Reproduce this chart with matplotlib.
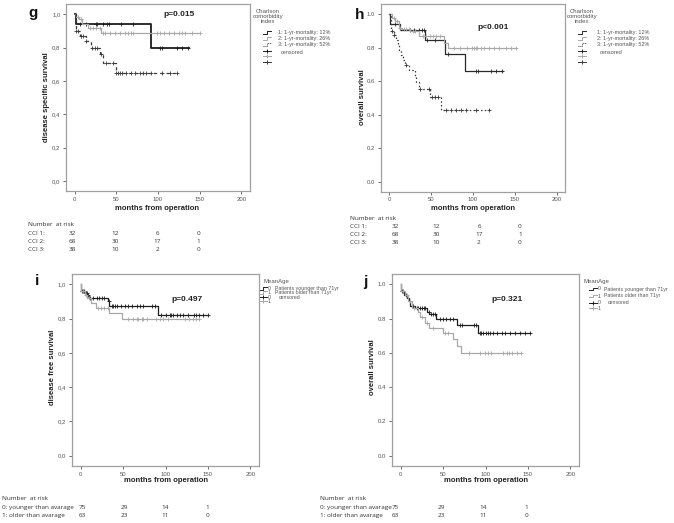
import numpy as np
import matplotlib
matplotlib.use("Agg")
import matplotlib.pyplot as plt

plt.rcParams['font.family'] = ['Liberation Sans', 'DejaVu Sans']

# ---------------- data ----------------
# Panel g: disease specific survival by CCI
g_cci1_t = [0, 1, 91, 137]
g_cci1_s = [1.0, 0.94, 0.80, 0.80]
g_cci1_c = [6, 13, 25, 27, 34, 39, 41, 55, 70, 103, 105, 123, 129, 136]
g_cci2_t = [0, 2, 5, 9, 16, 32, 151]
g_cci2_s = [1.0, 0.985, 0.97, 0.94, 0.92, 0.89, 0.89]
g_cci2_c = [4, 7, 18, 22, 26, 30, 34, 36, 42, 48, 54, 60, 64, 68, 70, 99, 103, 107,
            113, 119, 125, 129, 133, 141, 151]
g_cci3_t = [0, 1, 6, 13, 19, 30, 34, 49, 123]
g_cci3_s = [1.0, 0.90, 0.87, 0.84, 0.80, 0.76, 0.71, 0.65, 0.65]
g_cci3_c = [2, 4, 8, 10, 14, 21, 24, 27, 31, 37, 46, 50, 52, 54, 57, 62, 68, 72, 78,
            82, 86, 92, 105, 115, 123]

# Panel h: overall survival by CCI
h_cci1_t = [0, 1, 13, 43, 67, 90, 136]
h_cci1_s = [1.0, 0.94, 0.905, 0.845, 0.765, 0.66, 0.66]
h_cci1_c = [7, 25, 29, 35, 39, 41, 45, 55, 70, 104, 106, 122, 128, 135]
h_cci2_t = [0, 3, 7, 11, 15, 25, 35, 65, 70, 152]
h_cci2_s = [1.0, 0.98, 0.96, 0.92, 0.91, 0.90, 0.87, 0.83, 0.80, 0.80]
h_cci2_c = [5, 9, 13, 17, 20, 23, 28, 31, 40, 44, 48, 52, 56, 60, 77, 85, 93, 99,
            101, 103, 105, 109, 113, 119, 125, 131, 139, 145, 151]
h_cci3_t = [0, 2, 5, 8, 10, 12, 14, 16, 19, 23, 30, 32, 35, 49, 62, 122]
h_cci3_s = [1.0, 0.90, 0.875, 0.845, 0.815, 0.785, 0.755, 0.725, 0.695, 0.665,
            0.63, 0.595, 0.555, 0.505, 0.43, 0.43]
h_cci3_c = [3, 6, 20, 37, 47, 51, 55, 58, 68, 74, 80, 86, 92, 104, 119]

# Panel i: disease free survival by mean age
i_g0_t = [0, 1, 5, 8, 10, 32, 34, 91, 150]
i_g0_s = [1.0, 0.96, 0.95, 0.935, 0.92, 0.90, 0.875, 0.82, 0.82]
i_g0_c = [2, 3, 4, 6, 7, 9, 11, 15, 19, 22, 25, 27, 33, 37, 38, 40, 43, 48, 52, 56,
          60, 66, 70, 74, 84, 88, 95, 101, 105, 107, 109, 113, 117, 121, 127, 133,
          136, 140, 144, 150]
i_g1_t = [0, 1, 5, 8, 12, 18, 34, 49, 140]
i_g1_s = [1.0, 0.96, 0.94, 0.92, 0.89, 0.86, 0.83, 0.795, 0.795]
i_g1_c = [3, 6, 10, 20, 24, 28, 32, 56, 62, 66, 68, 72, 74, 78, 89, 93, 97, 103,
          123, 128, 132, 136, 140]

# Panel j: overall survival by mean age
j_g0_t = [0, 1, 4, 8, 10, 11, 17, 31, 34, 42, 66, 91, 152]
j_g0_s = [1.0, 0.96, 0.94, 0.92, 0.90, 0.875, 0.86, 0.84, 0.825, 0.795, 0.76,
          0.715, 0.715]
j_g0_c = [2, 3, 6, 13, 15, 19, 21, 23, 25, 27, 29, 33, 36, 38, 40, 46, 50, 54, 58,
          62, 70, 72, 86, 89, 93, 95, 97, 101, 103, 105, 109, 113, 119, 123, 129,
          135, 141, 147, 152]
j_g1_t = [0, 1, 5, 9, 14, 20, 23, 29, 34, 50, 62, 66, 71, 142]
j_g1_s = [1.0, 0.96, 0.94, 0.90, 0.86, 0.84, 0.81, 0.775, 0.745, 0.715, 0.68,
          0.64, 0.60, 0.60]
j_g1_c = [3, 7, 11, 16, 25, 31, 38, 52, 56, 81, 93, 99, 103, 106, 121, 125, 128,
          131, 137, 142]

# Labels / text
panel_letters = ['g', 'h', 'i', 'j']
ylabels = ['disease specific survival', 'overall survival',
           'disease free survival', 'overall survival']
xlabel = 'months from operation'
pvalues = ['p=0.015', 'p<0.001', 'p=0.497', 'p=0.321']
xticks = [0, 50, 100, 150, 200]
yticks = [0.0, 0.2, 0.4, 0.6, 0.8, 1.0]
cci_labels = ['1: 1-yr-mortality: 12%', '2: 1-yr-mortality: 26%',
              '3: 1-yr-mortality: 52%']
age_labels = ['Patients younger than 71yr', 'Patients older than 71yr']
cci_risk_rows = ['CCI 1:', 'CCI 2:', 'CCI 3:']
cci_risk = [[32, 12, 6, 0], [68, 30, 17, 1], [38, 10, 2, 0]]
age_risk_rows = ['0: younger than avarage', '1: older than avarage']
age_risk = [[75, 29, 14, 1], [63, 23, 11, 0]]

# ---------------- layout ----------------
W, H = 674, 523
fig = plt.figure(figsize=(W / 100, H / 100), dpi=100)


def px_axes(l, t, r, b):
    return fig.add_axes([l / W, 1 - b / H, (r - l) / W, (b - t) / H])


ov = fig.add_axes([0, 0, 1, 1])
ov.set_xlim(0, W)
ov.set_ylim(H, 0)
ov.axis('off')
ov.patch.set_alpha(0)

BLACK = '#1e1e1e'
GRAY = '#a8a8a8'
DARK = '#3a3a3a'
styles_cci = [dict(color=BLACK, lw=1.3, ls='-'),
              dict(color=GRAY, lw=0.9, ls='-'),
              dict(color=DARK, lw=0.9, ls=(0, (2.5, 2.5)))]
styles_cci_h = [dict(color='#2a2a2a', lw=0.9, ls='-'),
                dict(color=GRAY, lw=0.9, ls='-'),
                dict(color=DARK, lw=0.9, ls=(0, (1.2, 1.8)))]
styles_age = [dict(color=BLACK, lw=0.9, ls='-'),
              dict(color=GRAY, lw=0.9, ls='-')]

panels = [
    dict(box=(66, 4.3, 250, 191), comma=True, styles=styles_cci,
         curves=[(g_cci1_t, g_cci1_s, g_cci1_c), (g_cci2_t, g_cci2_s, g_cci2_c),
                 (g_cci3_t, g_cci3_s, g_cci3_c)],
         letter=(33, 13), ylab=(47, 97), xlab=(157, 208), p=(125, 1.0)),
    dict(box=(380.7, 4.3, 565.3, 191.7), comma=False, styles=styles_cci_h,
         curves=[(h_cci1_t, h_cci1_s, h_cci1_c), (h_cci2_t, h_cci2_s, h_cci2_c),
                 (h_cci3_t, h_cci3_s, h_cci3_c)],
         letter=(360, 15), ylab=(363, 97), xlab=(473, 208), p=(124, 0.924)),
    dict(box=(71.7, 274, 259.3, 466), comma=True, styles=styles_age,
         curves=[(i_g0_t, i_g0_s, i_g0_c), (i_g1_t, i_g1_s, i_g1_c)],
         letter=(37, 281), ylab=(53, 367), xlab=(166, 480), p=(125, 0.914)),
    dict(box=(391.7, 274, 579.3, 466), comma=False, styles=styles_age,
         curves=[(j_g0_t, j_g0_s, j_g0_c), (j_g1_t, j_g1_s, j_g1_c)],
         letter=(365, 282), ylab=(373, 367), xlab=(486, 480), p=(125, 0.91)),
]

for k, pn in enumerate(panels):
    ax = px_axes(*pn['box'])
    ax.set_xlim(-10.5, 210.5)
    ax.set_ylim(-0.06, 1.06)
    for sp in ['top', 'right', 'left', 'bottom']:
        ax.spines[sp].set_color('#a0a0a0')
        ax.spines[sp].set_linewidth(0.9)
    ax.set_xticks(xticks)
    ax.set_yticks(yticks)
    if pn['comma']:
        ax.set_yticklabels([f'{v:.1f}'.replace('.', ',') for v in yticks])
    else:
        ax.set_yticklabels([f'{v:.1f}' for v in yticks])
    ax.tick_params(direction='out', length=2.5, width=0.6, colors='#555555',
                   labelsize=4.3, pad=1.5)
    for (t, s, c), st in zip(pn['curves'], pn['styles']):
        t = np.asarray(t, float)
        s = np.asarray(s, float)
        ax.step(t, s, where='post', **st)
        c = np.asarray(c, float)
        idx = np.searchsorted(t, c, side='right') - 1
        ax.plot(c, s[idx], ls='none', marker='+', ms=3.2, mew=0.6,
                color=st['color'])
    ax.text(pn['p'][0], pn['p'][1], pvalues[k], ha='center', va='center',
            fontsize=6, fontweight='bold', color='#222222')
    ov.text(pn['letter'][0], pn['letter'][1], panel_letters[k], ha='center',
            va='center', fontsize=11, fontweight='bold', color='#111111')
    ov.text(pn['ylab'][0], pn['ylab'][1], ylabels[k], rotation=90, ha='center',
            va='center', fontsize=5.5, fontweight='bold', color='#222222')
    ov.text(pn['xlab'][0], pn['xlab'][1], xlabel, ha='center', va='center',
            fontsize=5.5, fontweight='bold', color='#222222')

LEG = '#555555'


def step_sym(x, y, st):
    ov.plot([x, x + 4, x + 4, x + 8], [y + 1.2, y + 1.2, y - 1.5, y - 1.5],
            color=st['color'], lw=0.7, ls=st['ls'] if st['ls'] == '-' else (0, (1, 1)))


def cens_sym(x, y, st):
    ov.plot([x, x + 8], [y, y], color=st['color'], lw=0.7)
    ov.plot([x + 4], [y], marker='+', ms=3.5, mew=0.7, color=st['color'])


# CCI legends (g and h)
for (tx, sx, lx), styles in zip([(268, 263, 278), (582, 578, 597)],
                                [styles_cci, styles_cci_h]):
    ov.text(tx, 16.5, 'Charlson\ncomorbidity\nindex', ha='center', va='center',
            fontsize=4.3, color=LEG, linespacing=1.05)
    for n, (lab, st) in enumerate(zip(cci_labels, styles)):
        y = 32.3 + 6.3 * n
        step_sym(sx, y, st)
        ov.text(lx, y, lab, ha='left', va='center', fontsize=4.0, color=LEG)
    for n, st in enumerate(styles):
        y = 51 + 5.3 * n
        cens_sym(sx, y, st)
    ov.text(lx + 3, 52, 'censored', ha='left', va='center', fontsize=4.0,
            color=LEG)

# Age legends (i and j)
for (tx, sx, lx, ys) in [(263, 260, 275, (288.3, 292.9, 297.3, 301.2)),
                         (583, 590, 604, (289, 296, 302.5, 308))]:
    ov.text(tx, 281, 'MeanAge', ha='left', va='center', fontsize=4.3, color=LEG)
    for n, (lab, st) in enumerate(zip(age_labels, styles_age)):
        y = ys[n]
        step_sym(sx - 1, y, st)
        ov.text(sx + 8, y, str(n), ha='left', va='center', fontsize=3.8, color=LEG)
        ov.text(lx, y, lab, ha='left', va='center', fontsize=3.8, color=LEG)
    for n, st in enumerate(styles_age):
        cens_sym(sx - 1, ys[2 + n], st)
        ov.text(sx + 8, ys[2 + n], str(n), ha='left', va='center', fontsize=3.8,
                color=LEG)
    ov.text(lx + 4, ys[2], 'censored', ha='left', va='center', fontsize=3.8,
            color=LEG)

# Number at risk tables
RISK = '#333333'
risk_specs = [
    (28, (225, 233.3, 241.3, 249.3), (72.7, 115, 157.3, 198.3), cci_risk_rows, cci_risk),
    (350, (218.3, 226, 234.3, 242.7), (395, 436.5, 479, 520), cci_risk_rows, cci_risk),
    (2, (498.3, 507.3, 515.7), (82.5, 124.5, 165.5, 207.3), age_risk_rows, age_risk),
    (320, (498.3, 507.3, 515.7), (395, 441, 483.3, 526.7), age_risk_rows, age_risk),
]
for lx, ys, cols, rows, vals in risk_specs:
    ov.text(lx, ys[0], 'Number  at risk', ha='left', va='center', fontsize=4.6,
            color=RISK, family=['Open Sans', 'DejaVu Sans'])
    for r, (rl, rv) in enumerate(zip(rows, vals)):
        y = ys[r + 1]
        ov.text(lx, y, rl, ha='left', va='center', fontsize=4.6, color=RISK,
                family=['Open Sans', 'DejaVu Sans'])
        for cx, v in zip(cols, rv):
            ov.text(cx, y, str(v), ha='center', va='center', fontsize=4.6,
                    color=RISK, family=['Open Sans', 'DejaVu Sans'])

fig.savefig('out.png', dpi=100)
